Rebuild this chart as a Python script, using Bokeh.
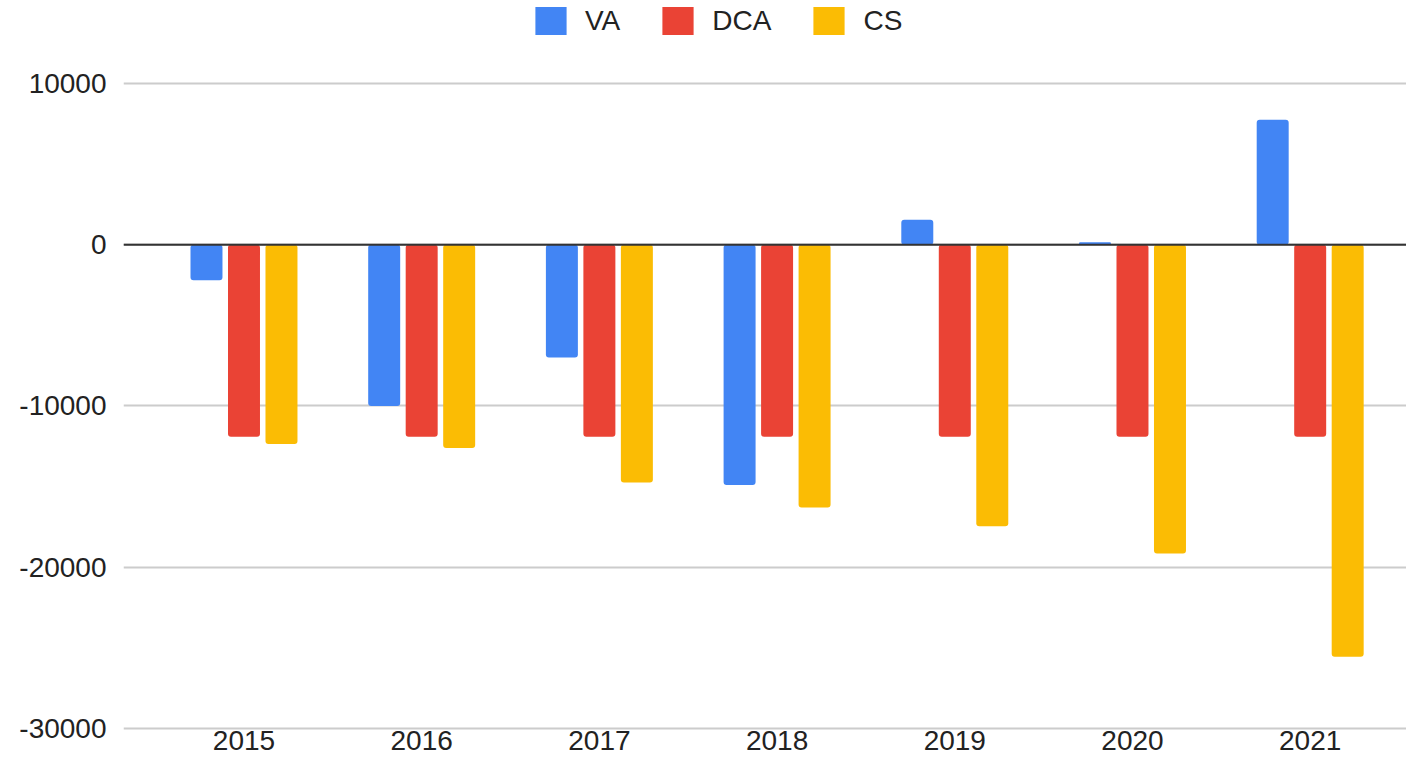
from bokeh.plotting import figure
from bokeh.models import ColumnDataSource, Range1d, FixedTicker, Span, Legend, LegendItem
from bokeh.transform import dodge
from bokeh.embed import file_html
from bokeh.resources import INLINE

# ---- data ----
years = ["2015", "2016", "2017", "2018", "2019", "2020", "2021"]
va = [-2200, -10000, -7000, -14900, 1550, 150, 7750]
dca = [-11900, -11900, -11900, -11900, -11900, -11900, -11900]
cs = [-12350, -12600, -14750, -16300, -17450, -19150, -25550]
y_ticks = [-30000, -20000, -10000, 0, 10000]
series_names = ["VA", "DCA", "CS"]
series_colors = ["#4285F4", "#EA4335", "#FBBC04"]

idx = list(range(len(years)))
src = ColumnDataSource(dict(x=idx, VA=va, DCA=dca, CS=cs))

FONT = "Liberation Sans"

p = figure(width=1406, height=761, output_backend="svg", toolbar_location=None,
           x_range=Range1d(-0.678, 6.542), y_range=Range1d(-30124, 15147),
           min_border_left=123, min_border_right=0, min_border_top=0,
           min_border_bottom=31)

p.outline_line_color = None
p.background_fill_color = "white"
p.xgrid.grid_line_color = None
p.ygrid.grid_line_color = "#cccccc"
p.ygrid.grid_line_width = 2

p.yaxis.ticker = FixedTicker(ticks=y_ticks)
p.yaxis.major_label_overrides = {t: str(t) for t in y_ticks}
p.yaxis.axis_line_color = None
p.yaxis.major_tick_line_color = None
p.yaxis.minor_tick_line_color = None
p.yaxis.major_tick_out = 0
p.yaxis.minor_tick_out = 0
p.yaxis.major_label_text_font_size = "28px"
p.yaxis.major_label_text_font = FONT
p.yaxis.major_label_text_color = "#222222"
p.yaxis.major_label_standoff = 17

p.xaxis.ticker = FixedTicker(ticks=idx)
p.xaxis.major_label_overrides = {i: y for i, y in zip(idx, years)}
p.xaxis.axis_line_color = None
p.xaxis.major_tick_line_color = None
p.xaxis.minor_tick_line_color = None
p.xaxis.major_tick_out = 0
p.xaxis.minor_tick_out = 0
p.xaxis.major_label_text_font_size = "28px"
p.xaxis.major_label_text_font = FONT
p.xaxis.major_label_text_color = "#222222"
p.xaxis.major_label_standoff = 0

offsets = [-0.211, 0.0, 0.211]
renderers = []
for name, color, off in zip(series_names, series_colors, offsets):
    r = p.vbar(x=dodge("x", off), top=name, bottom=0, width=0.18, source=src,
               fill_color=color, line_color=None, border_radius=3)
    renderers.append(r)

zero = Span(location=0, dimension="width", line_color="#333333", line_width=2)
p.add_layout(zero)

legend = Legend(items=[LegendItem(label=n, renderers=[r]) for n, r in zip(series_names, renderers)],
                orientation="horizontal", location=(408, 692),
                glyph_width=39, glyph_height=35, label_height=28, label_standoff=15,
                spacing=38, padding=0, margin=0, border_line_color=None,
                background_fill_alpha=0, label_text_font_size="28px",
                label_text_font=FONT, label_text_color="#222222")
p.add_layout(legend, "center")

open("out.html", "w").write(file_html(p, INLINE))
